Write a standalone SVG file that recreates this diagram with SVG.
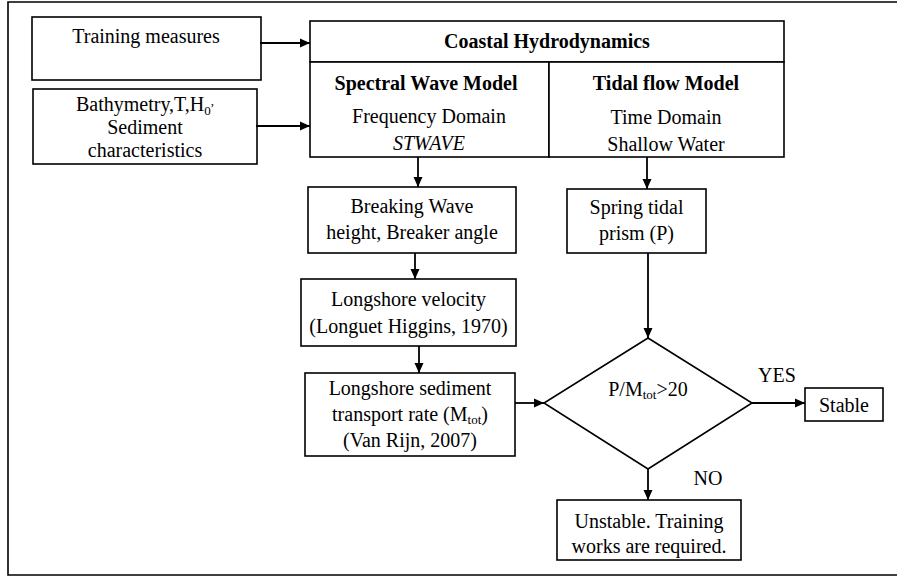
<svg xmlns="http://www.w3.org/2000/svg" width="897" height="577" viewBox="0 0 897 577">
<style>
text{font-family:"Liberation Serif","Times New Roman",serif;font-size:20px;fill:#000;text-anchor:middle}
.b{font-weight:bold}
.i{font-style:italic}
.box{fill:#fff;stroke:#000;stroke-width:1.6}
.ln{stroke:#000;stroke-width:1.8;fill:none}
.sub{font-size:13px}
</style>
<defs>
<marker id="ah" viewBox="0 0 10 10" refX="10" refY="5" markerWidth="10" markerHeight="10" markerUnits="userSpaceOnUse" orient="auto">
<path d="M0,0.5 L10,5 L0,9.5 Z" fill="#000"/>
</marker>
</defs>
<rect x="0" y="0" width="897" height="577" fill="#fff"/>
<path d="M900,2 H8 V575 H900" fill="none" stroke="#000" stroke-width="1.6"/>

<g id="training">
<rect class="box" x="32" y="17" width="229" height="63"/>
<text x="146" y="43">Training measures</text>
</g>
<g id="bathymetry">
<rect class="box" x="33" y="89" width="224" height="75"/>
<text x="145" y="111">Bathymetry,T,H<tspan class="sub" dy="4">0</tspan><tspan class="sub" dy="-10">,</tspan></text>
<text x="145" y="134">Sediment</text>
<text x="145" y="157">characteristics</text>
</g>
<g id="coastal">
<rect class="box" x="310" y="21" width="474" height="41"/>
<text class="b" x="547" y="48">Coastal Hydrodynamics</text>
</g>
<g id="spectral">
<rect class="box" x="310" y="62" width="239" height="95"/>
<text class="b" x="426" y="90">Spectral Wave Model</text>
<text x="429" y="123">Frequency Domain</text>
<text class="i" x="429" y="150">STWAVE</text>
</g>
<g id="tidal">
<rect class="box" x="549" y="62" width="235" height="95"/>
<text class="b" x="666" y="90">Tidal flow Model</text>
<text x="666" y="124">Time Domain</text>
<text x="666" y="151">Shallow Water</text>
</g>
<g id="breaking">
<rect class="box" x="308" y="187" width="208" height="66"/>
<text x="412" y="213">Breaking Wave</text>
<text x="412" y="239">height, Breaker angle</text>
</g>
<g id="spring">
<rect class="box" x="567" y="189" width="139" height="64"/>
<text x="636.5" y="214">Spring tidal</text>
<text x="636.5" y="240">prism (P)</text>
</g>
<g id="velocity">
<rect class="box" x="301" y="279" width="215" height="67"/>
<text x="408.5" y="306">Longshore velocity</text>
<text x="408.5" y="333">(Longuet Higgins, 1970)</text>
</g>
<g id="sediment">
<rect class="box" x="305" y="373" width="210" height="83"/>
<text x="410" y="395">Longshore sediment</text>
<text x="410" y="421">transport rate (M<tspan class="sub" dy="3">tot</tspan><tspan dy="-3">)</tspan></text>
<text x="410" y="447">(Van Rijn, 2007)</text>
</g>
<g id="decision">
<polygon class="box" points="648,338 752,403 648,469 544,403"/>
<text x="648" y="396">P/M<tspan class="sub" dy="3">tot</tspan><tspan dy="-3">&gt;20</tspan></text>
</g>
<g id="stable">
<rect class="box" x="805" y="388" width="78" height="33"/>
<text x="844" y="412">Stable</text>
</g>
<g id="unstable">
<rect class="box" x="557" y="500" width="184" height="60"/>
<text x="649" y="528">Unstable. Training</text>
<text x="649" y="553">works are required.</text>
</g>

<g id="connectors">
<line class="ln" x1="260" y1="43" x2="310" y2="43" marker-end="url(#ah)"/>
<line class="ln" x1="256" y1="126" x2="310" y2="126" marker-end="url(#ah)"/>
<line class="ln" x1="418" y1="157" x2="418" y2="187" marker-end="url(#ah)"/>
<line class="ln" x1="647" y1="157" x2="647" y2="189" marker-end="url(#ah)"/>
<line class="ln" x1="415" y1="253" x2="415" y2="279" marker-end="url(#ah)"/>
<line class="ln" x1="419" y1="346" x2="419" y2="373" marker-end="url(#ah)"/>
<line class="ln" x1="648" y1="253" x2="648" y2="338" marker-end="url(#ah)"/>
<line class="ln" x1="515" y1="403" x2="544" y2="403" marker-end="url(#ah)"/>
<line class="ln" x1="752" y1="403" x2="805" y2="403" marker-end="url(#ah)"/>
<line class="ln" x1="648" y1="469" x2="648" y2="500" marker-end="url(#ah)"/>
<text x="777" y="382">YES</text>
<text x="708" y="485">NO</text>
</g>
</svg>
